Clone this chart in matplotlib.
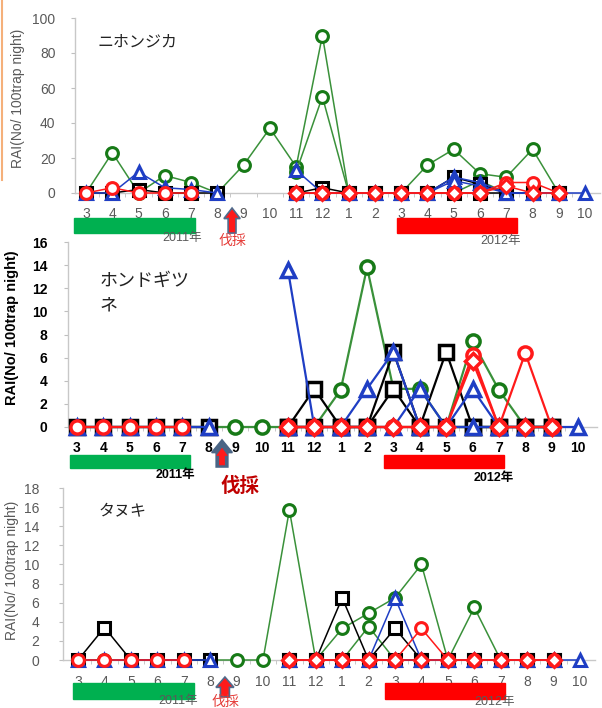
import numpy as np
import matplotlib
matplotlib.use("Agg")
import matplotlib.pyplot as plt
from matplotlib.patches import FancyArrow, Rectangle
from matplotlib.transforms import blended_transform_factory
from matplotlib.lines import Line2D

plt.rcParams['font.family'] = ['Liberation Sans', 'Noto Sans CJK JP', 'DejaVu Sans']

N = np.nan
months = ['3', '4', '5', '6', '7', '8', '9', '10', '11', '12',
          '1', '2', '3', '4', '5', '6', '7', '8', '9', '10']
year_labels = ['2011年', '2012年']
species = ['ニホンジカ', 'ホンドギツ\nネ', 'タヌキ']
cut_label = '伐採'
ylabel = 'RAI(No/ 100trap night)'

# ---- ニホンジカ (sika deer) ----
deer_g1 = [0, 23, 0, 10, 6, 0, 16, 37, 15, 90, 0, 0, 0, 16, 25, 11, 9, 25, 0, N]
deer_g2 = [N, N, N, N, N, N, N, N, 12, 55, 0, 0, 0, 0, 0, 7, 0, 0, 0, N]
deer_k1 = [0, 0, 2, 0, 0, 0, N, N, 0, 3, 0, 0, 0, 0, 9, 5, 0, 0, 0, N]
deer_k2 = [N, N, N, N, N, N, N, N, 0, 0, 0, 0, 0, 0, 0, 0, 0, 0, 0, N]
deer_b1 = [0, 0, 12, 3, 2, 0, N, N, 13, 0, 0, 0, 0, 0, 9, 6, 0, 0, 0, 0]
deer_b2 = [N, N, N, N, N, N, N, N, 0, 0, 0, 0, 0, 0, 7, 4, 0, 0, 0, N]
deer_r1 = [0, 3, 0, 0, 0, N, N, N, 0, 0, 0, 0, 0, 0, 0, 0, 6, 6, 0, N]
deer_r2 = [N, N, N, N, N, N, N, N, 0, 0, 0, 0, 0, 0, 0, 0, 4, 0, 0, N]

# ---- ホンドギツネ (red fox) ----
fox_g1 = [0, 0, 0, 0, 0, 0, 0, 0, 0, 0, 3.2, 13.8, 3.3, 3.3, 0, 7.4, 3.2, 0, 0, N]
fox_g2 = [N, N, N, N, N, N, N, N, 0, 0, 0, 0, 0, 0, 0, 0, 0, 0, 0, N]
fox_k1 = [0, 0, 0, 0, 0, 0, N, N, 0, 3.3, 0, 0, 3.3, 0, 6.5, 0, 0, 0, 0, N]
fox_k2 = [N, N, N, N, N, N, N, N, 0, 0, 0, 0, 6.5, 0, 0, 0, 0, 0, 0, N]
fox_b1 = [0, 0, 0, 0, 0, 0, N, N, 13.6, 0, 0, 3.3, 6.5, 0, 0, 3.3, 0, 0, 0, 0]
fox_b2 = [N, N, N, N, N, N, N, N, 0, 0, 0, 0, 0, 3.3, 0, 0, 0, 0, 0, N]
fox_r1 = [0, 0, 0, 0, 0, N, N, N, 0, 0, 0, 0, 0, 0, 0, 6.2, 0, 6.4, 0, N]
fox_r2 = [N, N, N, N, N, N, N, N, 0, 0, 0, 0, 0, 0, 0, 5.7, 0, 0, 0, N]

# ---- タヌキ (raccoon dog) ----
tan_g1 = [0, 0, 0, 0, 0, 0, 0, 0, 15.7, 0, 3.3, 4.9, 6.5, 10, 0, 5.5, 0, 0, 0, N]
tan_g2 = [N, N, N, N, N, N, N, N, 0, 0, 0, 3.5, 0, 0, 0, 0, 0, 0, 0, N]
tan_k1 = [0, 3.4, 0, 0, 0, 0, N, N, 0, 0, 6.5, 0, 3.3, 0, 0, 0, 0, 0, 0, N]
tan_k2 = [N, N, N, N, N, N, N, N, 0, 0, 0, 0, 0, 0, 0, 0, 0, 0, 0, N]
tan_b1 = [0, 0, 0, 0, 0, 0, N, N, 0, 0, 0, 0, 6.5, 0, 0, 0, 0, 0, 0, 0]
tan_b2 = [N, N, N, N, N, N, N, N, 0, 0, 0, 0, 0, 0, 0, 0, 0, 0, 0, N]
tan_r1 = [0, 0, 0, 0, 0, N, N, N, 0, 0, 0, 0, 0, 3.3, 0, 0, 0, 0, 0, N]
tan_r2 = [N, N, N, N, N, N, N, N, 0, 0, 0, 0, 0, 0, 0, 0, 0, 0, 0, N]

GREEN_M, GREEN_L = '#177a17', '#3a913a'
BLUE = '#1f3ec4'
RED = '#ff1a1a'
BLACK = '#000000'

styles = [  # (line colour, marker colour, marker, zorder)
    (GREEN_L, GREEN_M, 'o', 3),
    (GREEN_L, GREEN_M, 'o', 3),
    (BLACK, BLACK, 's', 4),
    (BLACK, BLACK, 's', 4),
    (BLUE, BLUE, '^', 5),
    (BLUE, BLUE, '^', 5),
    (RED, RED, 'o', 6),
    (RED, RED, 'D', 6),
]

W, H = 602, 708
fig = plt.figure(figsize=(W / 100, H / 100), dpi=100)


def fbox(l, r, top, bottom):
    return [l / W, 1 - bottom / H, (r - l) / W, (bottom - top) / H]


panels = [
    dict(series=[deer_g1, deer_g2, deer_k1, deer_k2, deer_b1, deer_b2, deer_r1, deer_r2],
         box=fbox(75, 600, 18, 193), xlim=(-0.42, 19.57), ylim=(0, 100),
         yticks=np.arange(0, 101, 20), bold=False, tcol='#595959', lw=1.1, ms=8.5, mew=2.2,
         ylab=(-0.095, 0.54), bars=(-0.143, -0.229), bar_x=(-0.46, 4.15, 11.84, 16.41),
         arrow=dict(x=5.56, y0=-0.229, y1=-0.086, w=0.30, hw=0.62, hl=0.06,
                    fc=RED, ec='#4f6b8c', inner=None),
         cut=(5.56, -0.274, 10, 'normal', '#e53935'),
         years=((3.66, -0.257), (15.77, -0.274)), ysize=10,
         sp=(0.042, 0.863, 11.5, 'normal'), ypad=11, xpad=10),
    dict(series=[fox_g1, fox_g2, fox_k1, fox_k2, fox_b1, fox_b2, fox_r1, fox_r2],
         box=fbox(68, 597, 242, 427), xlim=(-0.34, 19.72), ylim=(0, 16),
         yticks=np.arange(0, 17, 2), bold=True, tcol='#000000', lw=1.6, ms=9.5, mew=2.5,
         ylab=(-0.093, 0.535), bars=(-0.151, -0.222), bar_x=(-0.27, 4.29, 11.64, 16.19),
         arrow=dict(x=5.5, y0=-0.216, y1=-0.070, w=0.44, hw=0.78, hl=0.068,
                    fc='#4a6585', ec='#4a6585',
                    inner=dict(y0=-0.205, y1=-0.115, w=0.2, hw=0.4, hl=0.04)),
         cut=(6.18, -0.319, 14, 'bold', '#c00000'),
         years=((3.72, -0.259), (15.81, -0.276)), ysize=10.5,
         sp=(0.06, 0.838, 13, 'normal'), ypad=12, xpad=10),
    dict(series=[tan_g1, tan_g2, tan_k1, tan_k2, tan_b1, tan_b2, tan_r1, tan_r2],
         box=fbox(63, 595, 488, 660), xlim=(-0.57, 19.57), ylim=(0, 18),
         yticks=np.arange(0, 19, 2), bold=False, tcol='#595959', lw=1.1, ms=8.5, mew=2.2,
         ylab=(-0.083, 0.52), bars=(-0.134, -0.227), bar_x=(-0.19, 4.39, 11.62, 16.16),
         arrow=dict(x=5.56, y0=-0.215, y1=-0.099, w=0.34, hw=0.68, hl=0.06,
                    fc=RED, ec='#4f6b8c', inner=None),
         cut=(5.56, -0.247, 10, 'normal', '#e53935'),
         years=((3.79, -0.24), (15.78, -0.246)), ysize=10,
         sp=(0.066, 0.86, 11.5, 'normal'), ypad=14, xpad=11),
]

x = np.arange(len(months))

for idx, p in enumerate(panels):
    ax = fig.add_axes(p['box'])
    ax.set_facecolor('none')
    weight = 'bold' if p['bold'] else 'normal'
    for vals, (lc, mc, mk, z) in zip(p['series'], styles):
        ax.plot(x, vals, color=lc, lw=p['lw'], marker=mk,
                ms=p['ms'] if mk != 'D' else p['ms'] - 1,
                mfc='white', mec=mc, mew=p['mew'], zorder=z, clip_on=False)
    ax.set_xlim(*p['xlim'])
    ax.set_ylim(*p['ylim'])
    ax.set_yticks(p['yticks'])
    ax.set_yticklabels([str(v) for v in p['yticks']], fontsize=10, color=p['tcol'],
                       fontweight=weight)
    ax.set_xticks(x)
    ax.set_xticklabels(months, fontsize=10, color=p['tcol'], fontweight=weight)
    ax.set_xticks(x[:-1] + 0.5, minor=True)
    ax.tick_params(axis='x', which='major', length=0, pad=p['xpad'])
    ax.tick_params(axis='x', which='minor', length=3, color='#bfbfbf', direction='out')
    ax.tick_params(axis='y', length=3, color='#bfbfbf', pad=p['ypad'])
    for s in ('top', 'right'):
        ax.spines[s].set_visible(False)
    for s in ('left', 'bottom'):
        ax.spines[s].set_color('#c8c8c8')
        ax.spines[s].set_linewidth(1.0)
    ax.set_ylabel(ylabel, fontsize=p['ysize'], color=p['tcol'], fontweight=weight)
    ax.yaxis.set_label_coords(*p['ylab'])

    tr = blended_transform_factory(ax.transData, ax.transAxes)
    b0, b1 = p['bars']
    gx0, gx1, rx0, rx1 = p['bar_x']
    ax.add_patch(Rectangle((gx0, b1), gx1 - gx0, b0 - b1, transform=tr, color='#00b050',
                           clip_on=False, zorder=10))
    ax.add_patch(Rectangle((rx0, b1), rx1 - rx0, b0 - b1, transform=tr, color='#ff0000',
                           clip_on=False, zorder=10))

    a = p['arrow']
    ax.add_patch(FancyArrow(a['x'], a['y0'], 0, a['y1'] - a['y0'], width=a['w'],
                            head_width=a['hw'], head_length=a['hl'],
                            length_includes_head=True, transform=tr, fc=a['fc'],
                            ec=a['ec'], lw=1.2, clip_on=False, zorder=11))
    if a['inner']:
        i = a['inner']
        ax.add_patch(FancyArrow(a['x'], i['y0'], 0, i['y1'] - i['y0'], width=i['w'],
                                head_width=i['hw'], head_length=i['hl'],
                                length_includes_head=True, transform=tr, fc=RED,
                                ec=RED, lw=0.5, clip_on=False, zorder=12))
    cx, cy, cs, cw, cc = p['cut']
    ax.text(cx, cy, cut_label, transform=tr, ha='center', va='center', fontsize=cs,
            fontweight=cw, color=cc, family=['Noto Sans CJK JP'], zorder=13)
    for (yx, yy), lab in zip(p['years'], year_labels):
        ax.text(yx, yy, lab, transform=tr, ha='center', va='center', fontsize=9,
                color=p['tcol'], fontweight=weight, zorder=12)
    sx, sy, ss, sw = p['sp']
    sp_text = species[idx]
    ax.text(sx, sy, sp_text, transform=ax.transAxes, ha='left',
            va='top' if '\n' in sp_text else 'center',
            fontsize=ss, color='#222222', family=['Noto Sans CJK JP'],
            linespacing=1.45)

fig.add_artist(Line2D([0.003, 0.003], [1, 1 - 180 / H], color='#f5b07a', lw=1.5,
                      transform=fig.transFigure))

fig.savefig('out.png', dpi=100)
